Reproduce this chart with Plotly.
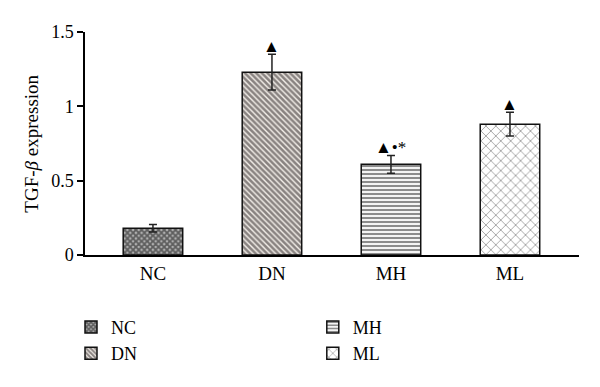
import plotly.graph_objects as go

groups = ["NC", "DN", "MH", "ML"]
values = [0.18, 1.23, 0.61, 0.88]
errors = [0.025, 0.12, 0.06, 0.08]
marks = ["", "▲", "▲•*", "▲"]
mark_y = [None, 1.40, 0.72, 1.015]
y_ticks = [0, 0.5, 1, 1.5]
y_tick_labels = ["0", "0.5", "1", "1.5"]
y_title = "TGF-<i>β</i> expression"

patterns = [
    dict(shape="x", fgcolor="#0a0a0a", bgcolor="#b0b0b0", size=4, solidity=0.7),
    dict(shape="\\", fgcolor="#1e1518", bgcolor="#f4f0ea", size=4, solidity=0.65),
    dict(shape="-", fgcolor="#1a1a1a", bgcolor="#ffffff", size=4, solidity=0.55),
    dict(shape="x", fgcolor="#2a2a2a", bgcolor="#ffffff", size=7, solidity=0.22),
]
legend_ids = ["legend", "legend", "legend2", "legend2"]

font = "Liberation Serif"
fig = go.Figure()
for i, g in enumerate(groups):
    fig.add_trace(go.Bar(
        x=[i], y=[values[i]], name=g, width=0.5,
        marker=dict(color="white", pattern=patterns[i],
                    line=dict(color="#111111", width=1.5)),
        error_y=dict(type="data", array=[errors[i]], color="#222222",
                     thickness=1.5, width=4),
        legend=legend_ids[i],
    ))

for i, m in enumerate(marks):
    if m:
        fig.add_annotation(x=i, y=mark_y[i], text=m, showarrow=False,
                           font=dict(size=17, color="black", family=font),
                           xref="x", yref="y")

fig.add_annotation(x=-0.109, y=0.5, xref="x domain", yref="y domain", text=y_title,
                   showarrow=False, textangle=-90, xanchor="center", yanchor="middle",
                   font=dict(size=19, family=font, color="black"))

legend_style = dict(orientation="v", xref="container", yref="container",
                    yanchor="top", xanchor="left", bgcolor="rgba(0,0,0,0)",
                    font=dict(size=18, family=font, color="black"),
                    tracegroupgap=0, itemwidth=30)

fig.update_layout(
    width=600, height=387,
    margin=dict(l=77, r=29, t=24, b=140, autoexpand=False),
    plot_bgcolor="white", paper_bgcolor="white",
    barmode="overlay",
    showlegend=True,
    font=dict(family=font, size=16, color="black"),
    xaxis=dict(range=[-0.571, 3.58], tickvals=list(range(len(groups))),
               ticktext=groups, showline=True, linecolor="black", linewidth=1.5,
               ticks="", showgrid=False, zeroline=False, automargin=False,
               tickfont=dict(size=19, family=font)),
    yaxis=dict(range=[0, 1.5], tickvals=y_ticks, ticktext=y_tick_labels,
               showline=True, linecolor="black", linewidth=1.5,
               ticks="outside", ticklen=6, tickwidth=1.5, tickcolor="black",
               showgrid=False, zeroline=False, automargin=False,
               tickfont=dict(size=18, family=font)),
    legend=dict(x=0.105, y=0.223, **legend_style),
    legend2=dict(x=0.508, y=0.223, **legend_style),
)

fig.write_html("out.html")
